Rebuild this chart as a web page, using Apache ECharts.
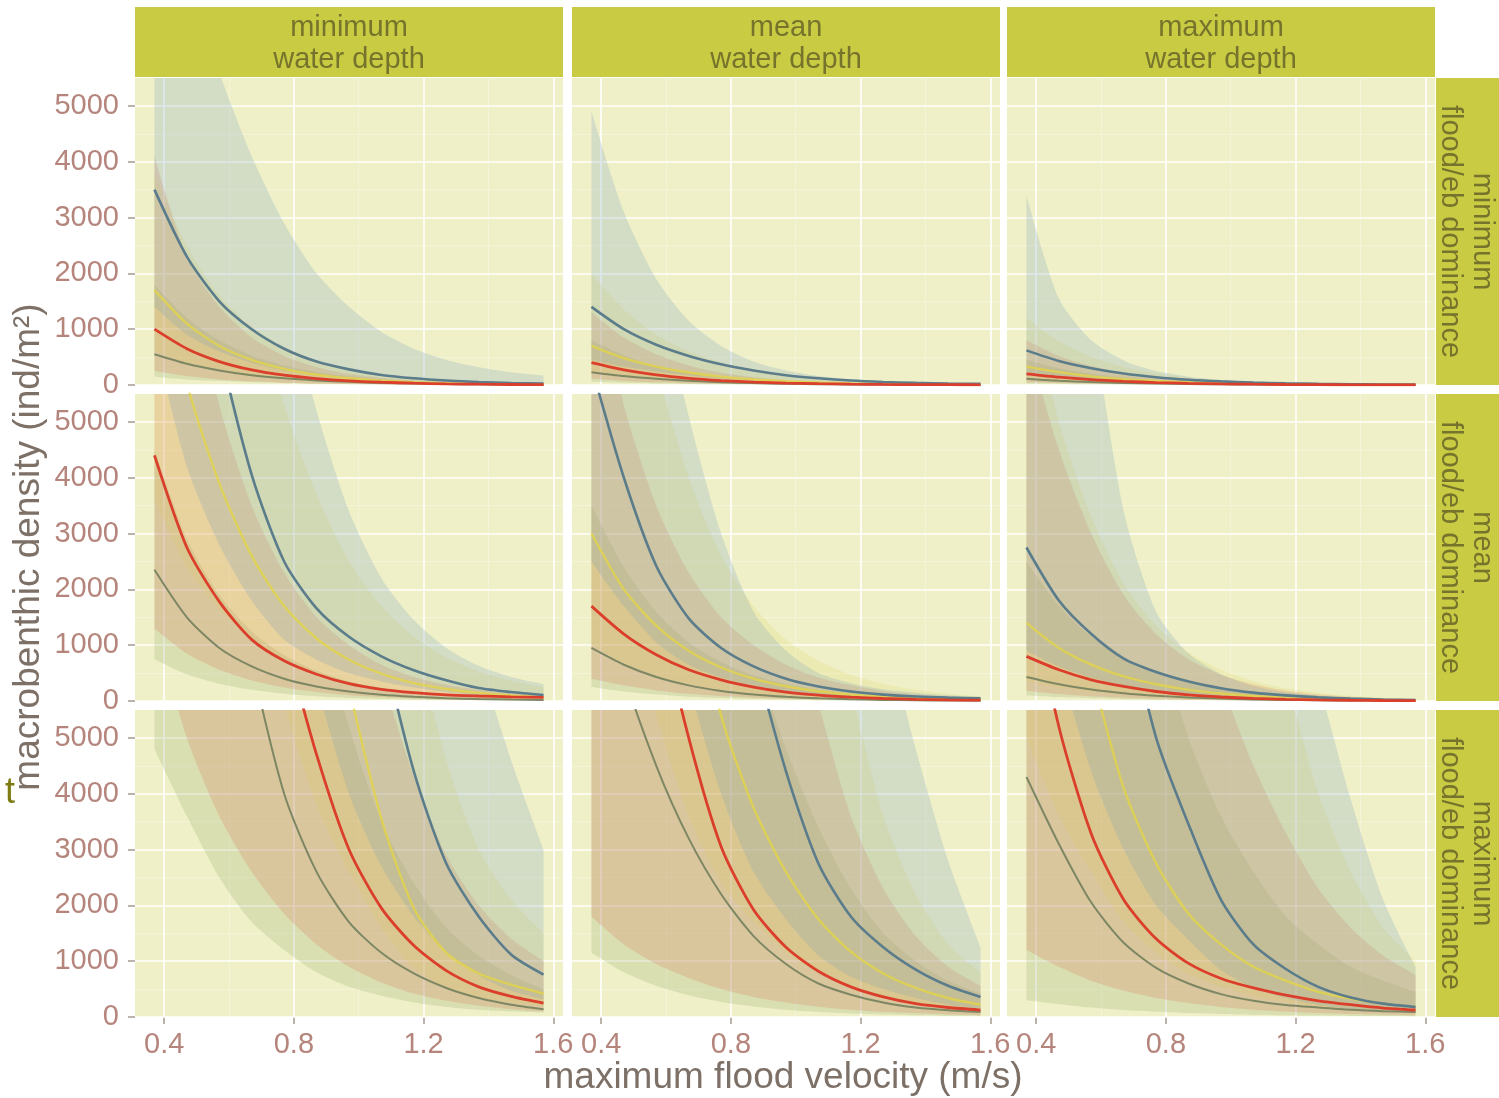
<!DOCTYPE html>
<html><head><meta charset="utf-8">
<script src="https://cdn.jsdelivr.net/npm/echarts@6/dist/echarts.min.js"></script>
<style>html,body{margin:0;padding:0;background:#fff;}#main{width:1499px;height:1098px;}</style>
</head><body><div id="main"></div>
<script>
// ---------------- data ----------------
const velocity = [0.37, 0.47, 0.57, 0.67, 0.77, 0.87, 0.97, 1.07, 1.17, 1.27, 1.37, 1.47, 1.57];
const xTicks = [0.4, 0.8, 1.2, 1.6];
const xMinor = [0.6, 1.0, 1.4];
const yTicks = [0, 1000, 2000, 3000, 4000, 5000];
const yMinor = [500, 1500, 2500, 3500, 4500];
const colTitles = ['minimum\nwater depth', 'mean\nwater depth', 'maximum\nwater depth'];
const rowTitles = ['minimum\nflood/eb dominance', 'mean\nflood/eb dominance', 'maximum\nflood/eb dominance'];
const groupNames = ['group 1', 'group 2', 'group 3', 'group 4'];
// each panel: rows = [blue, yellow, red, olive]
// row 1: minimum flood/eb dominance
const p11_mean = [
  [3500, 2300, 1500, 1000, 650, 420, 280, 180, 120, 80, 55, 35, 25],
  [1700, 1100, 700, 450, 290, 185, 120, 78, 50, 32, 21, 14, 9],
  [1000, 650, 420, 270, 175, 115, 75, 50, 32, 21, 14, 9, 6],
  [550, 380, 260, 175, 120, 82, 56, 38, 26, 18, 12, 8, 6]];
const p11_lower = [
  [1400, 900, 600, 400, 260, 170, 110, 70, 45, 30, 20, 14, 10],
  [600, 390, 250, 160, 100, 65, 42, 27, 17, 11, 7, 5, 3],
  [250, 160, 100, 65, 42, 27, 17, 11, 7, 5, 3, 2, 1],
  [150, 100, 70, 48, 32, 22, 15, 10, 7, 5, 3, 2, 1]];
const p11_upper = [
  [9000, 7500, 5600, 4100, 2900, 2000, 1400, 950, 650, 450, 320, 230, 170],
  [3800, 2500, 1600, 1050, 680, 440, 280, 180, 115, 75, 48, 31, 20],
  [4100, 2300, 1400, 850, 520, 320, 200, 125, 80, 50, 30, 20, 12],
  [1800, 1200, 800, 530, 350, 230, 155, 100, 68, 45, 30, 20, 14]];
const p12_mean = [
  [1400, 1000, 720, 520, 370, 260, 175, 120, 80, 55, 38, 27, 20],
  [700, 480, 330, 225, 150, 100, 68, 45, 30, 20, 13, 9, 6],
  [400, 270, 180, 120, 80, 53, 35, 23, 15, 10, 7, 5, 3],
  [230, 160, 110, 75, 50, 34, 23, 15, 10, 7, 5, 3, 2]];
const p12_lower = [
  [450, 330, 240, 170, 120, 85, 60, 40, 28, 19, 13, 9, 6],
  [220, 150, 100, 70, 47, 31, 21, 14, 9, 6, 4, 3, 2],
  [110, 72, 48, 32, 21, 14, 9, 6, 4, 3, 2, 1, 1],
  [60, 42, 29, 20, 14, 9, 6, 4, 3, 2, 1, 1, 1]];
const p12_upper = [
  [4900, 3100, 1900, 1150, 700, 420, 260, 160, 100, 60, 38, 25, 16],
  [2000, 1350, 900, 600, 400, 260, 170, 110, 72, 47, 30, 20, 13],
  [1300, 850, 550, 350, 220, 140, 90, 57, 36, 23, 15, 10, 6],
  [800, 530, 350, 230, 150, 100, 65, 42, 28, 18, 12, 8, 5]];
const p13_mean = [
  [620, 430, 300, 205, 140, 95, 65, 44, 30, 20, 14, 9, 6],
  [330, 230, 155, 105, 72, 49, 33, 22, 15, 10, 7, 5, 3],
  [200, 140, 95, 65, 44, 30, 20, 14, 9, 6, 4, 3, 2],
  [110, 76, 52, 36, 25, 17, 12, 8, 5, 4, 2, 2, 1]];
const p13_lower = [
  [170, 125, 90, 65, 46, 33, 23, 16, 11, 8, 5, 4, 3],
  [90, 63, 44, 30, 21, 14, 10, 7, 5, 3, 2, 1, 1],
  [50, 35, 24, 17, 12, 8, 5, 4, 2, 2, 1, 1, 0],
  [25, 18, 12, 9, 6, 4, 3, 2, 1, 1, 1, 0, 0]];
const p13_upper = [
  [3400, 1550, 800, 440, 250, 150, 90, 55, 34, 21, 13, 8, 5],
  [1200, 780, 500, 320, 210, 135, 87, 56, 36, 23, 15, 10, 6],
  [800, 520, 340, 220, 140, 90, 58, 37, 24, 15, 10, 6, 4],
  [450, 300, 200, 130, 85, 55, 36, 23, 15, 10, 6, 4, 3]];
// row 2: mean flood/eb dominance
const p21_mean = [
  [16000, 10000, 6400, 4050, 2500, 1660, 1150, 800, 550, 370, 232, 160, 107],
  [8500, 5700, 3900, 2600, 1700, 1120, 740, 490, 320, 215, 145, 100, 70],
  [4400, 2750, 1780, 1100, 720, 480, 310, 210, 150, 110, 90, 75, 65],
  [2350, 1500, 950, 620, 400, 260, 170, 110, 75, 50, 35, 25, 18]];
const p21_lower = [
  [6500, 4200, 2800, 1800, 1100, 740, 500, 350, 240, 160, 100, 70, 47],
  [3600, 2400, 1650, 1100, 720, 475, 315, 210, 135, 90, 60, 42, 30],
  [1300, 850, 560, 370, 240, 160, 105, 70, 47, 32, 22, 16, 12],
  [750, 480, 310, 200, 130, 85, 55, 36, 24, 16, 11, 8, 6]];
const p21_upper = [
  [40000, 25000, 16000, 11000, 7500, 5200, 3400, 2200, 1450, 950, 630, 430, 300],
  [22000, 15000, 10500, 7500, 5300, 3700, 2500, 1700, 1150, 780, 530, 360, 250],
  [12000, 8000, 5300, 3500, 2300, 1500, 1000, 650, 430, 290, 200, 140, 100],
  [4500, 2900, 1900, 1250, 820, 540, 350, 230, 150, 100, 66, 44, 30]];
const p22_mean = [
  [6000, 4000, 2420, 1480, 950, 620, 400, 260, 170, 115, 80, 60, 50],
  [3000, 2000, 1350, 900, 600, 400, 265, 175, 115, 76, 50, 33, 22],
  [1700, 1200, 830, 560, 380, 250, 160, 105, 70, 45, 30, 20, 14],
  [950, 650, 430, 280, 180, 115, 75, 48, 31, 20, 13, 9, 6]];
const p22_lower = [
  [2500, 1700, 1050, 650, 420, 270, 175, 115, 75, 50, 35, 25, 20],
  [1000, 680, 450, 300, 200, 135, 90, 60, 40, 26, 17, 11, 7],
  [400, 280, 190, 130, 88, 60, 40, 27, 18, 12, 8, 5, 4],
  [250, 170, 115, 78, 52, 35, 23, 15, 10, 7, 5, 3, 2]];
const p22_upper = [
  [16000, 11000, 7700, 5100, 3000, 1600, 900, 500, 320, 210, 150, 105, 75],
  [12000, 8500, 6000, 4000, 2600, 1700, 1100, 720, 470, 310, 200, 130, 85],
  [8000, 5300, 3500, 2300, 1500, 1000, 650, 420, 280, 180, 120, 80, 55],
  [3500, 2400, 1600, 1050, 700, 460, 300, 200, 130, 85, 56, 37, 25]];
const p23_mean = [
  [2750, 1800, 1200, 760, 520, 350, 230, 150, 100, 65, 42, 28, 18],
  [1400, 950, 650, 440, 300, 200, 135, 90, 60, 40, 27, 18, 12],
  [800, 560, 380, 260, 170, 110, 72, 47, 30, 20, 13, 9, 6],
  [430, 300, 205, 140, 95, 64, 43, 29, 19, 13, 9, 6, 4]];
const p23_lower = [
  [900, 620, 420, 280, 190, 125, 85, 56, 37, 25, 17, 11, 8],
  [350, 240, 165, 113, 77, 52, 35, 24, 16, 11, 7, 5, 3],
  [180, 125, 85, 58, 40, 27, 18, 12, 8, 5, 4, 2, 2],
  [100, 70, 48, 33, 23, 16, 11, 7, 5, 3, 2, 1, 1]];
const p23_upper = [
  [16000, 11000, 7000, 3400, 1600, 850, 480, 270, 160, 95, 60, 38, 25],
  [7500, 5000, 3300, 2100, 1350, 870, 560, 360, 230, 150, 95, 60, 40],
  [6500, 4500, 3000, 1900, 1200, 750, 470, 300, 190, 120, 75, 48, 30],
  [2500, 1700, 1150, 770, 510, 340, 225, 150, 100, 65, 43, 29, 19]];
// row 3: maximum flood/eb dominance
const p31_mean = [
  [100000, 70000, 48000, 33000, 22000, 15000, 10000, 6800, 4400, 2750, 1800, 1120, 760],
  [60000, 40000, 26000, 17000, 12500, 8500, 5900, 3550, 1950, 1150, 780, 580, 420],
  [30000, 20000, 13000, 9000, 6800, 4700, 3000, 1950, 1280, 830, 540, 370, 250],
  [25000, 16000, 10000, 6400, 4000, 2600, 1700, 1150, 780, 520, 340, 220, 140]];
const p31_lower = [
  [40000, 28000, 19000, 13000, 8800, 6000, 4000, 2700, 1800, 1150, 750, 470, 320],
  [27000, 18000, 12000, 7700, 5600, 3800, 2600, 1600, 880, 520, 350, 260, 190],
  [7000, 5000, 3600, 2600, 1850, 1300, 900, 620, 420, 290, 200, 140, 100],
  [4800, 3600, 2500, 1700, 1200, 800, 540, 380, 260, 180, 130, 100, 80]];
const p31_upper = [
  [300000, 200000, 130000, 90000, 60000, 40000, 27000, 19000, 14000, 9500, 6500, 4600, 3000],
  [150000, 100000, 65000, 42000, 28000, 20000, 15000, 11000, 7000, 4600, 3000, 2100, 1500],
  [80000, 55000, 38000, 26000, 18000, 13000, 9000, 6200, 4300, 2900, 2000, 1400, 1000],
  [60000, 40000, 26000, 17000, 11000, 7500, 5200, 3500, 2400, 1600, 1100, 750, 500]];
const p32_mean = [
  [50000, 33000, 22000, 15000, 10000, 6600, 4400, 2750, 1800, 1250, 850, 560, 360],
  [25000, 17000, 12000, 8000, 5400, 3750, 2600, 1750, 1170, 780, 520, 340, 220],
  [16000, 11000, 7500, 5000, 3050, 1920, 1250, 820, 540, 360, 240, 170, 125],
  [9500, 6200, 4500, 3200, 2200, 1450, 950, 600, 400, 260, 170, 120, 90]];
const p32_lower = [
  [20000, 13000, 8800, 6000, 4000, 2600, 1750, 1100, 720, 500, 340, 220, 145],
  [11000, 7600, 5400, 3600, 2400, 1700, 1170, 790, 530, 350, 235, 155, 100],
  [1800, 1300, 950, 700, 500, 360, 260, 185, 130, 92, 65, 46, 33],
  [1150, 800, 560, 390, 270, 190, 130, 90, 63, 44, 30, 21, 15]];
const p32_upper = [
  [150000, 100000, 70000, 48000, 33000, 23000, 16000, 11000, 8500, 7000, 4800, 2800, 1250],
  [80000, 55000, 38000, 26000, 18000, 13000, 9500, 7500, 5800, 3600, 2200, 1300, 800],
  [50000, 35000, 24000, 17000, 12000, 9000, 7500, 5600, 3600, 2300, 1450, 900, 560],
  [30000, 20000, 14000, 10000, 8000, 6500, 4800, 3400, 2300, 1500, 1000, 650, 420]];
const p33_mean = [
  [23000, 16000, 11000, 7500, 5000, 3450, 2100, 1300, 860, 540, 350, 240, 180],
  [12000, 8500, 6200, 4100, 2750, 1850, 1300, 900, 650, 450, 330, 240, 180],
  [8000, 5200, 3280, 2100, 1400, 960, 690, 520, 390, 290, 220, 160, 125],
  [4300, 3100, 2050, 1330, 880, 600, 410, 290, 215, 170, 130, 105, 90]];
const p33_lower = [
  [9000, 6400, 4400, 3000, 2000, 1380, 840, 520, 340, 215, 140, 95, 70],
  [5000, 3600, 2600, 1700, 1150, 770, 540, 375, 270, 190, 140, 100, 75],
  [1200, 900, 650, 470, 340, 250, 180, 130, 95, 70, 52, 40, 30],
  [300, 230, 170, 125, 95, 72, 55, 42, 33, 26, 20, 16, 13]];
const p33_upper = [
  [100000, 70000, 48000, 33000, 23000, 16000, 12000, 9500, 7800, 6000, 3900, 2100, 900],
  [60000, 42000, 30000, 21000, 15000, 11000, 8500, 7000, 6000, 4000, 2600, 1600, 1000],
  [40000, 28000, 20000, 14000, 10000, 7600, 6000, 4500, 3300, 2300, 1600, 1100, 750],
  [25000, 18000, 13000, 9500, 7000, 5000, 3600, 2600, 1800, 1300, 900, 650, 450]];

// ---------------- style / layout ----------------
const FONT = '"Liberation Sans", Arial, sans-serif';
const COL_LEFT = [135, 572, 1007];
const ROW_TOP = [78, 394, 710];
const PW = 428, PH = 307;
const PANEL_BG = '#eff0c8';
const STRIP_BG = '#c9cc43';
const STRIP_TXT = '#76732c';
const LABEL_C = '#b5857c';
const TITLE_C = '#7d7067';
const TICK_C = '#a89a92';
const LINE_C = ['#5b7c8b', 'rgba(228,212,70,0.8)', '#db3f2b', '#7e8763'];
const LINE_W = [2.6, 2.4, 2.8, 2.0];
const RIB_C = ['rgba(120,158,185,0.24)', 'rgba(226,210,80,0.17)', 'rgba(220,110,85,0.22)', 'rgba(140,165,95,0.22)'];
const SMOOTH = 0.25;

const panelMeans = [p11_mean, p12_mean, p13_mean, p21_mean, p22_mean, p23_mean, p31_mean, p32_mean, p33_mean];
const panelLowers = [p11_lower, p12_lower, p13_lower, p21_lower, p22_lower, p23_lower, p31_lower, p32_lower, p33_lower];
const panelUppers = [p11_upper, p12_upper, p13_upper, p21_upper, p22_upper, p23_upper, p31_upper, p32_upper, p33_upper];

const grids = [], xAxes = [], yAxes = [], series = [], graphics = [];
const ribbonOrder = [3, 2, 1, 0];
const lineOrder = [3, 1, 0, 2];

for (let r = 0; r < 3; r++) {
  for (let c = 0; c < 3; c++) {
    const gi = r * 3 + c;
    grids.push({left: COL_LEFT[c], top: ROW_TOP[r], width: PW, height: PH, show: true,
      backgroundColor: PANEL_BG, borderWidth: 0, containLabel: false});
    xAxes.push({gridIndex: gi, type: 'value', min: 0.31, max: 1.63,
      axisLine: {show: false},
      axisTick: {show: r === 2, customValues: xTicks, length: 7, lineStyle: {color: TICK_C, width: 1.5}},
      axisLabel: {show: r === 2, customValues: xTicks, margin: 13, color: LABEL_C, fontSize: 29, fontFamily: FONT,
        formatter: v => v.toFixed(1)},
      splitLine: {show: false}});
    yAxes.push({gridIndex: gi, type: 'value', min: 0, max: 5500,
      axisLine: {show: false},
      axisTick: {show: c === 0, customValues: yTicks, length: 7, lineStyle: {color: TICK_C, width: 1.5}},
      axisLabel: {show: c === 0, customValues: yTicks, margin: 16, color: LABEL_C, fontSize: 29, fontFamily: FONT,
        formatter: v => String(Math.round(v))},
      splitLine: {show: false}});
    // grid lines
    const gl = [];
    xTicks.forEach(v => gl.push({xAxis: v}));
    yTicks.forEach(v => gl.push({yAxis: v}));
    xMinor.forEach(v => gl.push({xAxis: v, lineStyle: {width: 0.9, opacity: 0.35}}));
    yMinor.forEach(v => gl.push({yAxis: v, lineStyle: {width: 0.9, opacity: 0.35}}));
    series.push({type: 'line', xAxisIndex: gi, yAxisIndex: gi, data: [[0.31, -100]], symbol: 'none',
      lineStyle: {opacity: 0}, silent: true, z: 1,
      markLine: {silent: true, z: 1, symbol: ['none', 'none'], label: {show: false}, animation: false,
        lineStyle: {color: '#ffffff', width: 1.7, type: 'solid', opacity: 0.95}, data: gl}});
    const mean = panelMeans[gi], lo = panelLowers[gi], hi = panelUppers[gi];
    ribbonOrder.forEach(k => {
      const st = 'band' + gi + '_' + k;
      series.push({type: 'line', name: groupNames[k], xAxisIndex: gi, yAxisIndex: gi, stack: st,
        data: velocity.map((x, i) => [lo[k][i], x]), encode: {x: 1, y: 0},
        symbol: 'none', lineStyle: {width: 0, opacity: 0}, smooth: SMOOTH, silent: true, z: 2});
      series.push({type: 'line', name: groupNames[k], xAxisIndex: gi, yAxisIndex: gi, stack: st,
        data: velocity.map((x, i) => [hi[k][i] - lo[k][i], x]), encode: {x: 1, y: 0},
        symbol: 'none', lineStyle: {width: 0, opacity: 0}, areaStyle: {color: RIB_C[k], opacity: 1},
        smooth: SMOOTH, silent: true, z: 2});
    });
    lineOrder.forEach(k => {
      series.push({type: 'line', name: groupNames[k], xAxisIndex: gi, yAxisIndex: gi,
        data: velocity.map((x, i) => [x, mean[k][i]]), symbol: 'none',
        lineStyle: {color: LINE_C[k], width: LINE_W[k]}, smooth: SMOOTH, silent: true, z: 3});
    });
  }
}

// strips
for (let c = 0; c < 3; c++) {
  graphics.push({type: 'rect', shape: {x: COL_LEFT[c], y: 7, width: PW, height: 70}, style: {fill: STRIP_BG}, silent: true});
  graphics.push({type: 'text', x: COL_LEFT[c] + PW / 2, y: 44, silent: true,
    style: {text: colTitles[c], fill: STRIP_TXT, font: '29px ' + FONT, align: 'center', verticalAlign: 'middle', lineHeight: 32}});
}
for (let r = 0; r < 3; r++) {
  graphics.push({type: 'rect', shape: {x: 1436, y: ROW_TOP[r], width: 63, height: PH}, style: {fill: STRIP_BG}, silent: true});
  graphics.push({type: 'text', x: 1466, y: ROW_TOP[r] + PH / 2, rotation: -Math.PI / 2, silent: true,
    style: {text: rowTitles[r], fill: STRIP_TXT, font: '29px ' + FONT, align: 'center', verticalAlign: 'middle', lineHeight: 32}});
}
// axis titles
graphics.push({type: 'text', x: 783, y: 1078, silent: true,
  style: {text: 'maximum flood velocity (m/s)', fill: TITLE_C, font: '37px ' + FONT, align: 'center', verticalAlign: 'middle'}});
graphics.push({type: 'text', x: 29, y: 547, rotation: Math.PI / 2, silent: true,
  style: {text: 'macrobenthic density (ind/m²)', fill: TITLE_C, font: '37px ' + FONT, align: 'center', verticalAlign: 'middle'}});
graphics.push({type: 'text', x: 10, y: 793, silent: true,
  style: {text: 't', fill: '#7d7b12', font: '36px ' + FONT, align: 'center', verticalAlign: 'middle'}});

const chart = echarts.init(document.getElementById('main'), null, {renderer: 'canvas'});
chart.setOption({
  animation: false,
  backgroundColor: '#ffffff',
  grid: grids, xAxis: xAxes, yAxis: yAxes, series: series, graphic: graphics
});
</script></body></html>
